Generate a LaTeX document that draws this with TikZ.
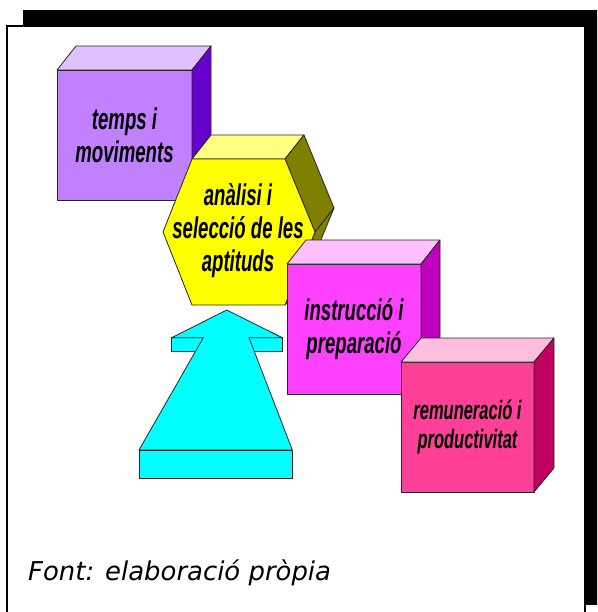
\documentclass[tikz,border=0pt]{standalone}
\usepackage{fontspec}
\usetikzlibrary{calc}
\setmainfont{Liberation Sans}
\newfontfamily\capfont{DejaVu Sans}
\newfontfamily\boxfont[FakeStretch=0.62]{Liberation Sans}
\definecolor{pfront}{RGB}{192,128,255}
\definecolor{ptop}{RGB}{224,192,255}
\definecolor{pside}{RGB}{102,0,204}
\definecolor{yfront}{RGB}{255,255,0}
\definecolor{ytop}{RGB}{255,255,128}
\definecolor{yside}{RGB}{128,128,0}
\definecolor{mfront}{RGB}{255,64,255}
\definecolor{mtop}{RGB}{255,192,255}
\definecolor{mside}{RGB}{192,0,192}
\definecolor{rfront}{RGB}{255,64,153}
\definecolor{rtop}{RGB}{255,190,220}
\definecolor{rside}{RGB}{192,0,96}
\definecolor{cyanfill}{RGB}{0,255,255}
\begin{document}
\begin{tikzpicture}[x=1pt,y=-1pt,
  edge/.style={draw=black!85, line width=0.8pt, line join=round},
  boxtxt/.style={font=\boxfont\bfseries\itshape\fontsize{30}{33}\selectfont, align=center, text=black},
  frontface/.style={edge, inner sep=0pt, outer sep=0pt, anchor=north west}]
\useasboundingbox (0,0) rectangle (597,612);
\begin{scope}
\clip (0,0) rectangle (597,612);
\fill[black] (23,10) rectangle (601,605);
\draw[line width=2pt, fill=white] (7,26) rectangle (584.5,621);
\end{scope}

% purple box
\node[frontface, fill=pfront, minimum width=135pt, minimum height=130pt, boxtxt] (tm) at (57,70) {temps i\\moviments};
\draw[edge, fill=ptop] (tm.north west) -- ++(19,-24) -- ++(135,0) -- (tm.north east) -- cycle;
\draw[edge, fill=pside] (tm.north east) -- ++(19,-24) -- ++(0,130) -- (tm.south east) -- cycle;

% yellow hexagon prism
\coordinate (h1) at (192,159);
\coordinate (h2) at (285,159);
\coordinate (h3) at (315,232);
\coordinate (h4) at (285,305);
\coordinate (h5) at (192,305);
\coordinate (h6) at (163,232);
\draw[edge, fill=ytop] (h1) -- ++(19,-24) -- ++(93,0) -- (h2) -- cycle;
\draw[edge, fill=yside] (h2) -- ++(19,-24) -- ($(h3)+(19,-24)$) -- (h3) -- cycle;
\draw[edge, fill=yside] (h3) -- ++(19,-24) -- ($(h4)+(19,-24)$) -- (h4) -- cycle;
\draw[edge, fill=yfront] (h1) -- (h2) -- (h3) -- (h4) -- (h5) -- (h6) -- cycle;
\node[boxtxt] (ana) at (238,231) {anàlisi i\\selecció de les\\aptituds};

% magenta box
\node[frontface, fill=mfront, minimum width=134pt, minimum height=130pt, boxtxt] (ip) at (287,264) {instrucció i\\preparació};
\draw[edge, fill=mtop] (ip.north west) -- ++(19,-24) -- ++(134,0) -- (ip.north east) -- cycle;
\draw[edge, fill=mside] (ip.north east) -- ++(19,-24) -- ++(0,130) -- (ip.south east) -- cycle;

% red box
\node[frontface, fill=rfront, minimum width=133pt, minimum height=130pt, boxtxt, font=\boxfont\bfseries\itshape\fontsize{26.6}{28.7}\selectfont] (rp) at (401,362) {remuneració i\\productivitat};
\draw[edge, fill=rtop] (rp.north west) -- ++(20,-24) -- ++(133,0) -- (rp.north east) -- cycle;
\draw[edge, fill=rside] (rp.north east) -- ++(20,-24) -- ++(0,130) -- (rp.south east) -- cycle;

% cyan arrow
\coordinate (tip) at (226.7,310);
\coordinate (wl) at (171.7,337.7);
\coordinate (wr) at (282.3,337.7);
\coordinate (sl) at (203.3,337.7);
\coordinate (sr) at (249,337.7);
\coordinate (bl) at (139,450);
\coordinate (br) at (292.3,450);
\draw[edge, fill=cyanfill] (wl) rectangle (203.3,351.7);
\draw[edge, fill=cyanfill] (sr) rectangle (282.3,351.7);
\draw[edge, fill=cyanfill] (tip) -- (wr) -- (sr) -- (br) -- (bl) -- (sl) -- (wl) -- cycle;
\draw[edge, fill=cyanfill] (bl) rectangle (292.3,478.3);

% caption
\node[anchor=base west, inner sep=0pt, font=\capfont\itshape\fontsize{25.9}{30}\selectfont] (cap) at (28,580) {Font: elaboració pròpia};
\end{tikzpicture}
\end{document}
